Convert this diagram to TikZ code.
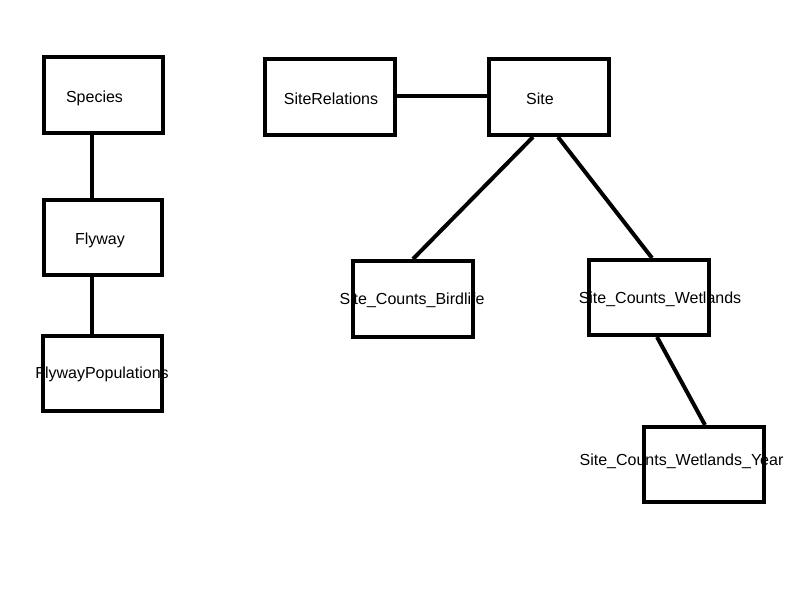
\documentclass[tikz,border=0pt]{standalone}
\usepackage{fontspec}
\setmainfont{Liberation Sans}
\newcommand\pxu{0.75pt}
\begin{document}
\begin{tikzpicture}[x=0.75pt,y=-0.75pt,
  box/.style 2 args={draw=black,line width=3pt,inner sep=0pt,
    minimum width=#1*0.75pt,minimum height=#2*0.75pt},
  lbl/.style={inner sep=0pt,font=\fontsize{12pt}{14pt}\selectfont},
  link/.style={line width=3pt,draw=black}]
\useasboundingbox (0,0) rectangle (800,600);

% labels (set first so the box outlines run over them)
\node[lbl] (tSpecies) at (94.5,98.5) {Species};
\node[lbl] (tFlyway) at (100,240.5) {Flyway};
\node[lbl] (tFlyPop) at (102,374.5) {FlywayPopulations};
\node[lbl] (tSiteRel) at (331,98.5) {SiteRelations};
\node[lbl] (tSite) at (540,98.5) {Site};
\node[lbl] (tBirdlife) at (412,300.5) {Site\_Counts\_Birdlife};
\node[lbl] (tWetlands) at (660,299.5) {Site\_Counts\_Wetlands};
\node[lbl] (tYear) at (681.5,461.5) {Site\_Counts\_Wetlands\_Year};

% tables
\node[box={119}{76}] (species) at (103.5,95) {};
\node[box={118}{75}] (flyway) at (103,237.5) {};
\node[box={119}{75}] (flypop) at (102.5,373.5) {};
\node[box={130}{76}] (siterel) at (330,97) {};
\node[box={120}{76}] (site) at (549,97) {};
\node[box={120}{76}] (birdlife) at (413,299) {};
\node[box={120}{75}] (wetlands) at (649,297.5) {};
\node[box={120}{75}] (year) at (704,464.5) {};

% relations
\draw[link] ([xshift=-11.5*\pxu]species.south) -- ([xshift=-11*\pxu]flyway.north);
\draw[link] ([xshift=-11*\pxu]flyway.south) -- ([xshift=-10.5*\pxu]flypop.north);
\draw[link] ([yshift=1.5*\pxu]siterel.east) -- ([yshift=1.5*\pxu]site.west);
\draw[link] ([xshift=-16*\pxu]site.south) -- (birdlife.north);
\draw[link] ([xshift=9*\pxu]site.south) -- ([xshift=3*\pxu]wetlands.north);
\draw[link] ([xshift=8*\pxu]wetlands.south) -- ([xshift=1*\pxu]year.north);
\end{tikzpicture}
\end{document}
